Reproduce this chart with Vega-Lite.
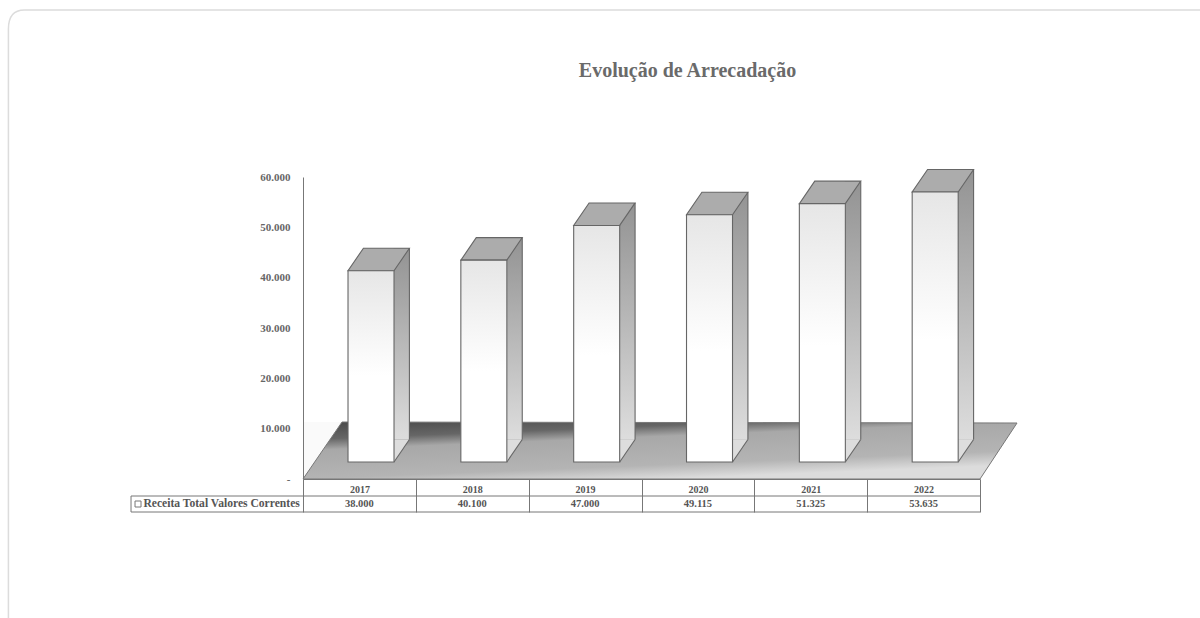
{
"$schema":"https://vega.github.io/schema/vega-lite/v6.json",
"width":677,"height":302,
"autosize":{"type":"none"},
"padding":{"left":303,"top":177,"right":220,"bottom":139},
"background":"white",
"title":{"text":"Evolução de Arrecadação","anchor":"middle","dx":46,"offset":0,"dy":74,"font":"Liberation Serif","fontSize":20,"fontWeight":"bold","color":"#6a6a6a"},
"config":{"view":{"stroke":null}},
"data":{"values":[
{"ano":"2017","receita":38000,"rotulo":"38.000","serie":"Receita Total Valores Correntes"},
{"ano":"2018","receita":40100,"rotulo":"40.100","serie":"Receita Total Valores Correntes"},
{"ano":"2019","receita":47000,"rotulo":"47.000","serie":"Receita Total Valores Correntes"},
{"ano":"2020","receita":49115,"rotulo":"49.115","serie":"Receita Total Valores Correntes"},
{"ano":"2021","receita":51325,"rotulo":"51.325","serie":"Receita Total Valores Correntes"},
{"ano":"2022","receita":53635,"rotulo":"53.635","serie":"Receita Total Valores Correntes"}
]},
"encoding":{
"x":{"field":"ano","type":"nominal","title":null,"scale":{"type":"band","domain":["2017","2018","2019","2020","2021","2022"],"paddingInner":0,"paddingOuter":0},
"axis":{"labelAngle":0,"tickBand":"extent","tickSize":33,"tickColor":"#777777","tickWidth":1,"domainColor":"#777777","labelPadding":-28,"labelFont":"Liberation Serif","labelFontSize":10,"labelFontWeight":"bold","labelColor":"#555555","zindex":0}},
"y":{"field":"receita","type":"quantitative","title":null,"scale":{"domain":[0,60000],"nice":false},
"axis":{"values":[0,10000,20000,30000,40000,50000,60000],"labelExpr":"datum.value === 0 ? '-' : replace(format(datum.value, ','), ',', '.')","ticks":false,"grid":false,"labelPadding":13,"domainColor":"#777777","labelFont":"Liberation Serif","labelFontSize":11,"labelFontWeight":"bold","labelColor":"#666666","zindex":1}}
},
"layer":[
{"transform":[{"filter":{"field":"ano","equal":"2017"}}],"mark":{"type":"point","filled":false,"opacity":1,"size":4,"stroke":"#dcdcdc","strokeWidth":1.5,"shape":"M-351,139 V-450 Q-351,-469 -335,-469 H841"},"encoding":{"y":{"datum":0}}},
{"transform":[{"filter":{"field":"ano","equal":"2017"}}],"mark":{"type":"point","filled":true,"opacity":1,"size":4,"fill":"#fafafa","stroke":null,"shape":"M-56.4,0 L-17.4,-57 L-56.4,-57 Z"},"encoding":{"y":{"datum":0}}},
{"transform":[{"filter":{"field":"ano","equal":"2017"}}],"mark":{"type":"point","filled":true,"opacity":1,"size":4,"stroke":"#777777","strokeWidth":1,
"fill":{"gradient":"linear","x1":0,"y1":0,"x2":0.5,"y2":1,"stops":[{"offset":0,"color":"#484848"},{"offset":0.25,"color":"#666666"},{"offset":0.4,"color":"#a8a8a8"},{"offset":0.8,"color":"#b4b4b4"},{"offset":1,"color":"#dcdcdc"}]},
"shape":"M-56.4,0 L620.6,0 L657.6,-56 L-17.4,-57 Z"},"encoding":{"y":{"datum":0}}},
{"mark":{"type":"bar","width":16,"xOffset":42,"x2Offset":42,"yOffset":-39.5,"y2Offset":-39.5,
"fill":{"gradient":"linear","x1":0,"y1":0,"x2":0,"y2":1,"stops":[{"offset":0,"color":"#939393"},{"offset":1,"color":"#dddddd"}]}},
"encoding":{"y2":{"datum":0},"y":{"field":"receita","type":"quantitative","stack":null}}},
{"mark":{"type":"point","filled":true,"opacity":1,"size":4,"fill":"#dddddd","stroke":null,"shape":"M34.6,-17 L50,-39.5 L34.6,-39.5 Z"},"encoding":{"y":{"datum":0}}},
{"mark":{"type":"point","filled":false,"opacity":1,"size":4,"stroke":"#666666","strokeWidth":1.1,"shape":"M34.6,-17 L50,-39.5"},"encoding":{"y":{"datum":0}}},
{"mark":{"type":"rule","xOffset":50,"x2Offset":50,"yOffset":-39.5,"y2Offset":-39.5,"stroke":"#666666","strokeWidth":1.1},"encoding":{"y2":{"datum":0},"y":{"field":"receita","type":"quantitative","stack":null}}},
{"mark":{"type":"point","filled":true,"opacity":1,"size":4,"fill":"#acacac","stroke":"#666666","strokeWidth":1.1,"shape":"M-11.4,-17 L34.6,-17 L50,-39.5 L4,-39.5 Z"}},
{"mark":{"type":"bar","width":46,"xOffset":11.6,"x2Offset":11.6,"yOffset":-17,"y2Offset":-17,"stroke":"#666666","strokeWidth":1.1,
"fill":{"gradient":"linear","x1":0,"y1":0,"x2":0,"y2":1,"stops":[{"offset":0,"color":"#e6e6e6"},{"offset":0.55,"color":"#ffffff"},{"offset":1,"color":"#ffffff"}]}},
"encoding":{"y2":{"datum":0},"y":{"field":"receita","type":"quantitative","stack":null}}},
{"transform":[{"filter":{"field":"ano","equal":"2017"}}],"mark":{"type":"point","filled":false,"opacity":1,"size":4,"stroke":"#777777","strokeWidth":1,"shape":"M620.6,17 H-228.4 V33 H620.6 M-224.4,22 H-218.4 V28 H-224.4 Z"},"encoding":{"y":{"datum":0}}},
{"transform":[{"filter":{"field":"ano","equal":"2017"}}],"mark":{"type":"text","align":"left","baseline":"middle","xOffset":-216,"yOffset":25,"font":"Liberation Serif","fontSize":11.6,"fontWeight":"bold","fill":"#555555"},"encoding":{"y":{"datum":0},"text":{"field":"serie","type":"nominal"}}},
{"mark":{"type":"text","baseline":"middle","yOffset":25,"font":"Liberation Serif","fontSize":10.5,"fontWeight":"bold","fill":"#555555"},"encoding":{"y":{"datum":0},"text":{"field":"rotulo","type":"nominal"}}}
]
}
